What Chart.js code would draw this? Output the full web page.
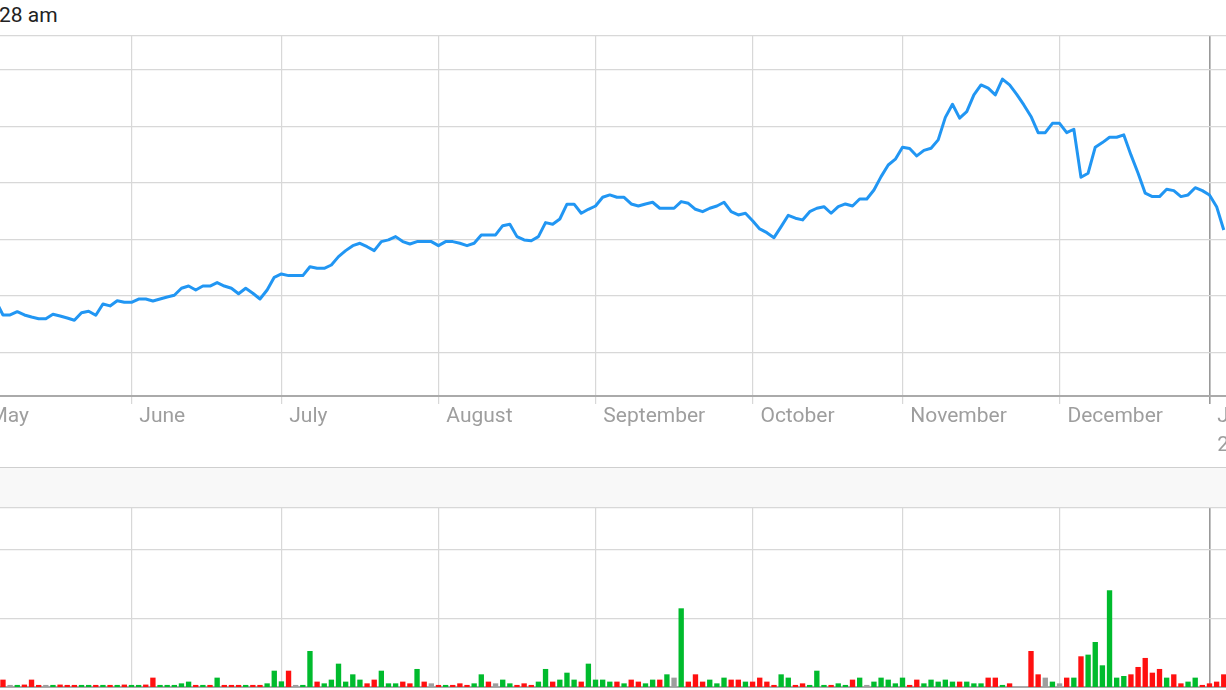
<!DOCTYPE html>
<html>
<head>
<meta charset="utf-8">
<script src="https://cdn.jsdelivr.net/npm/chart.js@4/dist/chart.umd.min.js"></script>
<style>
html,body{margin:0;padding:0;background:#fff;overflow:hidden;width:1226px;height:690px;position:relative;}
#stamp{position:absolute;left:-1px;top:5px;font-family:Roboto,sans-serif;font-size:21px;line-height:21px;color:#222;white-space:nowrap;}
#band{position:absolute;left:0;top:467px;width:1226px;height:40px;background:#f8f8f8;border-top:1px solid #cfcfcf;}
canvas{position:absolute;}
</style>
</head>
<body>
<div id="stamp">28 am</div>
<div id="band"></div>
<canvas id="price" width="1346" height="440" style="left:-40px;top:26px"></canvas>
<canvas id="vol" width="1346" height="219" style="left:-40px;top:498px"></canvas>
<script>
// ---- data (trading-day index, first entry = day -1) ----
const firstDay = -1;
const closePrices = [
  24.56, 23.32, 23.32, 23.61, 23.32, 23.14, 22.99, 22.99, 23.38, 23.23, 23.05,
  22.85, 23.52, 23.65, 23.29, 24.29, 24.12, 24.58, 24.44, 24.44, 24.73,
  24.73, 24.56, 24.73, 24.91, 25.06, 25.68, 25.88, 25.53, 25.88, 25.88,
  26.18, 25.88, 25.68, 25.20, 25.68, 25.24, 24.73, 25.53, 26.65, 26.95,
  26.80, 26.80, 26.80, 27.59, 27.45, 27.45, 27.74, 28.48, 29.01, 29.45,
  29.66, 29.36, 29.01, 29.81, 29.96, 30.25, 29.81, 29.60, 29.81, 29.81,
  29.81, 29.45, 29.81, 29.81, 29.66, 29.45, 29.66, 30.40, 30.40, 30.40,
  31.22, 31.35, 30.25, 29.96, 29.89, 30.25, 31.49, 31.35, 31.81, 33.12,
  33.12, 32.32, 32.67, 32.96, 33.73, 33.94, 33.73, 33.73, 33.14, 32.96,
  33.14, 33.29, 32.76, 32.76, 32.76, 33.35, 33.20, 32.67, 32.46, 32.76,
  32.96, 33.29, 32.46, 32.17, 32.32, 31.66, 30.93, 30.60, 30.16, 31.13,
  32.14, 31.88, 31.73, 32.46, 32.76, 32.90, 32.32, 32.90, 33.14, 32.96,
  33.58, 33.58, 34.38, 35.56, 36.59, 37.10, 38.16, 38.04, 37.39, 37.88,
  38.07, 38.81, 40.80, 41.96, 40.73, 41.31, 42.79, 43.67, 43.38, 42.79,
  44.18, 43.67, 42.83, 41.90, 40.88, 39.45, 39.45, 40.27, 40.27, 39.45,
  39.75, 35.50, 35.86, 38.16, 38.57, 39.04, 39.04, 39.25, 37.48, 35.86,
  34.09, 33.79, 33.79, 34.44, 34.32, 33.79, 33.94, 34.58, 34.32, 33.94,
  32.90, 30.84
];
const volumes = [
  0.3, 1.07, 0.3, 0.3, 0.35, 1.07, 0.3, 0.3, 0.3, 0.35, 0.3,
  0.3, 0.3, 0.3, 0.3, 0.3, 0.3, 0.3, 0.35, 0.3, 0.3,
  0.35, 1.36, 0.3, 0.3, 0.3, 0.53, 0.78, 0.3, 0.3, 0.3,
  1.36, 0.3, 0.3, 0.3, 0.3, 0.3, 0.3, 0.53, 2.37, 0.82,
  2.37, 0.3, 0.3, 5.23, 0.78, 0.53, 1.07, 3.39, 0.78, 1.84,
  1.07, 0.53, 1.07, 2.37, 0.53, 0.53, 0.78, 0.53, 2.62, 0.78,
  0.53, 0.3, 0.3, 0.3, 0.53, 0.3, 0.53, 1.84, 0.78, 0.53,
  1.07, 0.53, 0.3, 0.53, 0.3, 0.78, 2.62, 0.78, 1.07, 2.08,
  1.07, 0.78, 3.39, 1.07, 1.07, 0.78, 0.78, 0.53, 1.07, 0.78,
  0.53, 1.07, 1.07, 1.84, 1.36, 11.43, 0.78, 1.84, 0.78, 1.07,
  0.53, 1.36, 1.07, 1.07, 0.78, 0.78, 1.36, 0.78, 0.3, 1.84,
  1.36, 0.3, 0.53, 0.3, 2.37, 0.3, 0.3, 0.53, 0.3, 1.07,
  1.36, 0.3, 0.78, 1.36, 1.07, 0.53, 1.36, 0.3, 1.07, 0.53,
  1.07, 0.78, 1.07, 0.78, 0.78, 0.78, 0.53, 0.53, 1.36, 1.36,
  0.3, 0.53, null, null, 5.23, 1.84, 1.36, 0.78, 0.53, 1.36,
  1.36, 4.46, 4.70, 6.54, 3.15, 14.05, 1.36, 1.60, 1.84, 2.91,
  4.22, 2.08, 2.62, 1.36, 1.84, 0.53, 0.78, 1.36, 0.3, 0.53,
  0.78, 1.84
];
// g = up day, r = down day, n = unchanged
const volumeMoves = (
  "rrngrrrngrr" + "rggrgrgrgg" + "rrgggggrgr" + "grrrgrrggg" + "rnggrggggg" +
  "grrgggrrgr" + "nrgrrrggrn" + "ggrrrggrgg" + "grggggrgrr" + "ggrgngrrrg" +
  "ggrrgrrrrg" + "grrgggrggr" + "gngggggrrg" + "ggggrgggrr" + "grnnrrngnr" +
  "grggggggrr" + "rrrgrrggrr" + "rr"
).split("");
const monthStarts = [-3.0, 18, 39, 61, 83, 105, 126, 148, 169];
const monthLabels = ["May", "June", "July", "August", "September", "October", "November", "December", ["Jan", "2020"]];
const priceTicks = [20, 25, 30, 35, 40, 45, 48];
const volumeTicks = [10, 20, 26];

// ---- styling ----
const LINE_BLUE = "#2196f3";
const UP_GREEN = "#00bb2d";
const DOWN_RED = "#ff1010";
const FLAT_GRAY = "#9e9e9e";
const GRID = "#d8d8d8";
const NOW_LINE = "#999999";
const AXIS_LINE = "#aaaaaa";
const X_MIN = -6.02, X_MAX = 182.52;
const LABEL_SHIFT = 1.1;

const dayIndex = closePrices.map((_, k) => firstDay + k);
const linePoints = dayIndex.map((d, k) => ({ x: d, y: closePrices[k] }));
const barPoints = dayIndex.map((d, k) => ({ x: d, y: volumes[k] }));
const barColors = volumeMoves.map(c => c === "g" ? UP_GREEN : (c === "r" ? DOWN_RED : FLAT_GRAY));
const lastMonth = monthStarts[monthStarts.length - 1];
const gridColor = ctx => (ctx.tick && ctx.tick.value === lastMonth) ? NOW_LINE : GRID;
const gridWidth = ctx => (ctx.tick && ctx.tick.value === lastMonth) ? 1.6 : 1.2;

const common = {
  responsive: false, animation: false, devicePixelRatio: 1,
  plugins: { legend: { display: false }, tooltip: { enabled: false } }
};

new Chart(document.getElementById("price"), {
  type: "line",
  data: { datasets: [{ data: linePoints, borderColor: LINE_BLUE, borderWidth: 3, pointRadius: 0, tension: 0, fill: false, borderJoinStyle: "round" }] },
  options: Object.assign({}, common, {
    layout: { padding: { top: 10, left: 0, right: 0, bottom: 0 } },
    scales: {
      x: {
        type: "linear", min: X_MIN, max: X_MAX, position: "bottom", weight: 0,
        afterBuildTicks: s => { s.ticks = monthStarts.map(v => ({ value: v })); },
        ticks: { display: false },
        grid: { color: gridColor, lineWidth: gridWidth, drawTicks: true, tickLength: 8, tickColor: gridColor },
        border: { display: true, color: AXIS_LINE, width: 2 },
        afterFit: s => { s.height = 8; }
      },
      xl: {
        type: "linear", axis: "x", min: X_MIN, max: X_MAX, position: "bottom", weight: 1,
        afterBuildTicks: s => { s.ticks = monthStarts.map(v => ({ value: v + LABEL_SHIFT })); },
        ticks: {
          align: "start", padding: -2, color: "#9e9e9e", autoSkip: false, maxRotation: 0, minRotation: 0,
          font: { family: "Roboto", size: 21, lineHeight: 1.38 },
          callback: (v, i) => monthLabels[i]
        },
        grid: { display: false, drawTicks: false },
        border: { display: false },
        afterFit: s => { s.height = 62; }
      },
      y: {
        type: "linear", min: 16.15, max: 48,
        afterBuildTicks: s => { s.ticks = priceTicks.map(v => ({ value: v })); },
        ticks: { display: false },
        grid: { color: GRID, lineWidth: 1.2, drawTicks: false },
        border: { display: false }
      }
    }
  })
});

new Chart(document.getElementById("vol"), {
  type: "bar",
  data: { datasets: [{ data: barPoints, backgroundColor: barColors, barPercentage: 0.75, categoryPercentage: 1 }] },
  options: Object.assign({}, common, {
    layout: { padding: { top: 10, left: 0, right: 0, bottom: 0 } },
    scales: {
      x: {
        type: "linear", min: X_MIN, max: X_MAX, offset: false,
        afterBuildTicks: s => { s.ticks = monthStarts.map(v => ({ value: v })); },
        ticks: { display: false },
        grid: { offset: false, color: gridColor, lineWidth: gridWidth, drawTicks: false },
        border: { display: true, color: AXIS_LINE, width: 2 },
        afterFit: s => { s.height = 30; }
      },
      y: {
        type: "linear", min: 0, max: 26,
        afterBuildTicks: s => { s.ticks = volumeTicks.map(v => ({ value: v })); },
        ticks: { display: false },
        grid: { color: GRID, lineWidth: 1.2, drawTicks: false },
        border: { display: false }
      }
    }
  })
});
</script>
</body>
</html>
